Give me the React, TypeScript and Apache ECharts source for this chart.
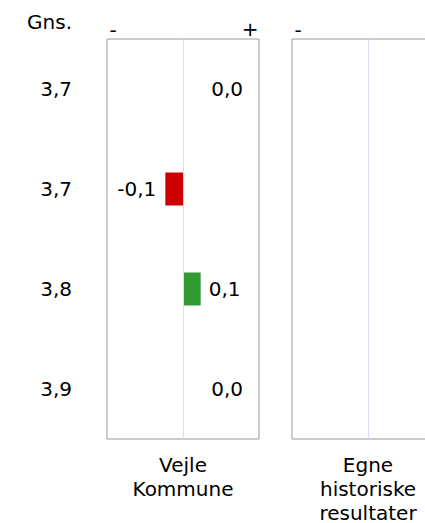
import React, { useEffect, useRef } from "react";
import * as echarts from "echarts";

const categories = ["3,7", "3,7", "3,8", "3,9"];
const kommuneValues = [0.0, -0.1, 0.1, 0.0];
const historicValues: (number | null)[] = [null, null, null, null];
const panelNames = ["Vejle\nKommune", "Egne\nhistoriske\nresultater"];
const headerLabel = "Gns.";

const FONT = "DejaVu Sans";
const fmt = (v: number) => v.toFixed(1).replace(".", ",");

export default function App() {
  const ref = useRef<HTMLDivElement>(null);
  useEffect(() => {
    if (!ref.current) return;
    const chart = echarts.init(ref.current, undefined, { renderer: "svg" });
    const grids = [
      { left: 107, top: 39, width: 152, height: 400 },
      { left: 292, top: 39, width: 152, height: 400 },
    ];
    const xAxisBase = (i: number) => ({
      type: "value" as const,
      gridIndex: i,
      min: -0.43,
      max: 0.43,
      interval: 0.43,
      axisLabel: { show: false },
      axisTick: { show: false },
      axisLine: { show: false },
      splitLine: { show: false },
      name: panelNames[i],
      nameLocation: "middle" as const,
      nameGap: 14,
      nameTextStyle: {
        fontSize: 20,
        color: "#000",
        fontFamily: FONT,
        lineHeight: 24,
        verticalAlign: "top" as const,
        align: "center" as const,
      },
    });
    const kommuneData = kommuneValues.map((v) => {
      const color = v < 0 ? "#cc0000" : v > 0 ? "#339933" : "transparent";
      let label: any;
      if (v < 0) label = { position: "left", distance: 9 };
      else if (v > 0) label = { position: "right", distance: 8 };
      else label = { position: [60, 16.5], align: "right", verticalAlign: "middle" };
      return { value: v, itemStyle: { color }, label };
    });
    const markLine = () => ({
      silent: true,
      symbol: "none",
      label: { show: false },
      lineStyle: { color: "#dcdcf2", width: 1, type: "solid" },
      data: [{ xAxis: 0 }],
    });
    chart.setOption({
      animation: false,
      textStyle: { fontFamily: FONT },
      grid: grids.map((g) => ({
        ...g,
        outerBoundsMode: "none",
        containLabel: false,
        show: true,
        borderColor: "#999999",
        borderWidth: 1,
        backgroundColor: "transparent",
      })),
      xAxis: [xAxisBase(0), xAxisBase(1)],
      yAxis: [0, 1].map((i) => ({
        type: "category",
        gridIndex: i,
        data: categories,
        inverse: true,
        axisLine: { show: false },
        axisTick: { show: false },
        splitLine: { show: false },
        axisLabel: {
          show: i === 0,
          margin: 35,
          fontSize: 20,
          color: "#000",
          fontFamily: FONT,
        },
      })),
      series: [
        {
          type: "bar",
          xAxisIndex: 0,
          yAxisIndex: 0,
          data: kommuneData,
          barWidth: 33,
          label: {
            show: true,
            fontSize: 20,
            color: "#000",
            fontFamily: FONT,
            formatter: (p: any) => fmt(p.value),
          },
          markLine: markLine(),
          z: 3,
        },
        {
          type: "bar",
          xAxisIndex: 1,
          yAxisIndex: 1,
          data: historicValues,
          barWidth: 33,
          markLine: markLine(),
        },
      ],
      graphic: [
        {
          type: "text",
          x: 72,
          y: 22,
          style: { text: headerLabel, fontSize: 20, fill: "#000", fontFamily: FONT, align: "right", verticalAlign: "middle" },
        },
        {
          type: "text",
          x: 113,
          y: 30,
          style: { text: "-", fontSize: 20, fill: "#000", fontFamily: FONT, align: "center", verticalAlign: "middle" },
        },
        {
          type: "text",
          x: 250,
          y: 29,
          style: { text: "+", fontSize: 20, fill: "#000", fontFamily: FONT, align: "center", verticalAlign: "middle" },
        },
        {
          type: "text",
          x: 298,
          y: 30,
          style: { text: "-", fontSize: 20, fill: "#000", fontFamily: FONT, align: "center", verticalAlign: "middle" },
        },
      ],
    });
    return () => chart.dispose();
  }, []);
  return (
    <div style={{ width: 425, height: 523, position: "absolute", left: 0, top: 0, overflow: "hidden" }}>
      <div ref={ref} style={{ width: 470, height: 523 }} />
    </div>
  );
}
